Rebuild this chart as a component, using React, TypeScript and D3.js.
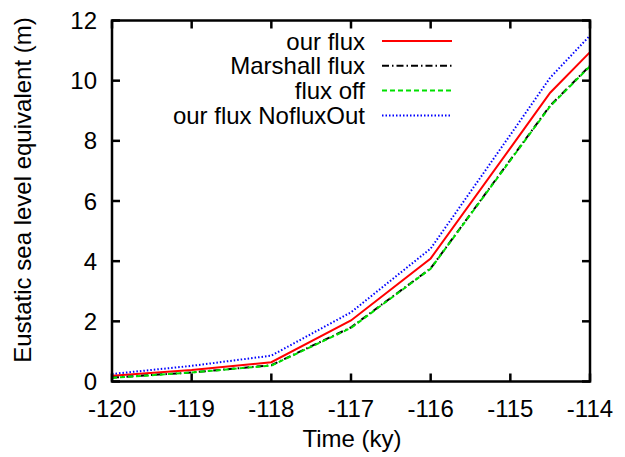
import React from "react";
import * as d3 from "d3";

const times = [-120, -119, -118, -117, -116, -115, -114.5, -114];
const ourFlux = [0.19, 0.38, 0.64, 2.03, 4.09, 7.76, 9.6, 10.95];
const marshallFlux = [0.13, 0.3, 0.54, 1.8, 3.76, 7.37, 9.17, 10.5];
const fluxOff = [0.12, 0.3, 0.53, 1.78, 3.75, 7.35, 9.15, 10.48];
const noFluxOut = [0.25, 0.52, 0.86, 2.3, 4.42, 8.2, 10.1, 11.5];

const xTicks = [-120, -119, -118, -117, -116, -115, -114];
const yTicks = [0, 2, 4, 6, 8, 10, 12];

const series = [
  { name: "our flux", values: ourFlux, color: "#ff0000", dash: "none" },
  { name: "Marshall flux", values: marshallFlux, color: "#000000", dash: "7,3,1.5,3" },
  { name: "flux off", values: fluxOff, color: "#00e000", dash: "5,3" },
  { name: "our flux NofluxOut", values: noFluxOut, color: "#0000ff", dash: "1.5,2" },
];

export default function App() {
  const W = 625, H = 457;
  const L = 112, R = 590, T = 20.5, B = 381.5;
  const x = d3.scaleLinear().domain([-120, -114]).range([L, R]);
  const y = d3.scaleLinear().domain([0, 12]).range([B, T]);
  const font = "Liberation Sans, Arial, sans-serif";
  const fs = 24;
  const tick = 8;
  return (
    <svg width={W} height={H} style={{ position: "absolute", left: 0, top: 0, background: "#fff" }}>
      <rect x={0} y={0} width={W} height={H} fill="#fff" />
      {series.map((s) => {
        const line = d3
          .line<number>()
          .x((_, i) => x(times[i]))
          .y((v) => y(v));
        return (
          <path
            key={s.name}
            d={line(s.values) || ""}
            fill="none"
            stroke={s.color}
            strokeWidth={2}
            strokeDasharray={s.dash}
          />
        );
      })}
      <rect x={L} y={T} width={R - L} height={B - T} fill="none" stroke="#000" strokeWidth={2.5} />
      {xTicks.map((t) => (
        <g key={"x" + t}>
          <line x1={x(t)} x2={x(t)} y1={B} y2={B - tick} stroke="#000" strokeWidth={2.5} />
          <line x1={x(t)} x2={x(t)} y1={T} y2={T + tick} stroke="#000" strokeWidth={2.5} />
          <text x={x(t)} y={417} textAnchor="middle" fontFamily={font} fontSize={fs}>
            {t}
          </text>
        </g>
      ))}
      {yTicks.map((t) => (
        <g key={"y" + t}>
          <line x1={L} x2={L + tick} y1={y(t)} y2={y(t)} stroke="#000" strokeWidth={2.5} />
          <line x1={R} x2={R - tick} y1={y(t)} y2={y(t)} stroke="#000" strokeWidth={2.5} />
          <text x={97} y={y(t) + 8.6} textAnchor="end" fontFamily={font} fontSize={fs}>
            {t}
          </text>
        </g>
      ))}
      <text x={352} y={447} textAnchor="middle" fontFamily={font} fontSize={fs}>
        Time (ky)
      </text>
      <text
        transform={`translate(31,190) rotate(-90)`}
        textAnchor="middle"
        fontFamily={font}
        fontSize={fs}
      >
        Eustatic sea level equivalent (m)
      </text>
      {series.map((s, i) => {
        const ly = 41 + i * 24.8;
        return (
          <g key={"lg" + s.name}>
            <text x={365} y={ly + 8.6} textAnchor="end" fontFamily={font} fontSize={fs}>
              {s.name}
            </text>
            <line x1={382} x2={452} y1={ly} y2={ly} stroke={s.color} strokeWidth={2} strokeDasharray={s.dash} />
          </g>
        );
      })}
    </svg>
  );
}
